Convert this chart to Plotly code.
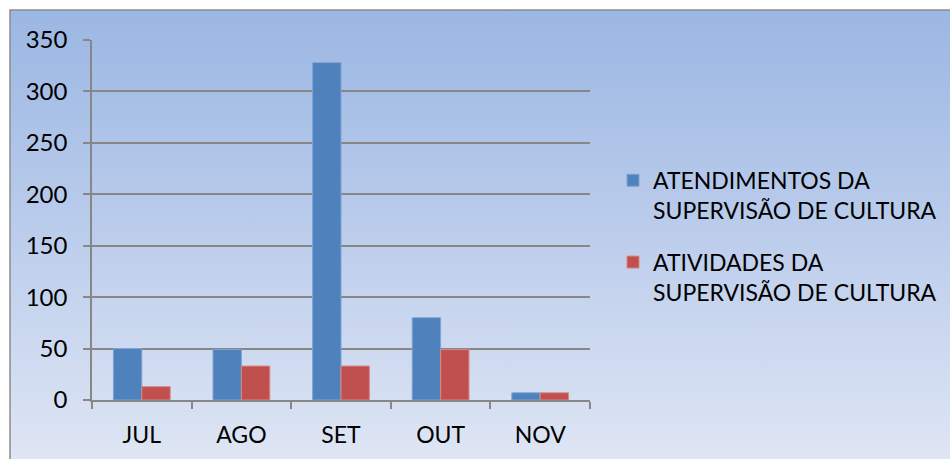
import base64
import plotly.graph_objects as go

# Monthly figures for the culture supervision office
months = ["JUL", "AGO", "SET", "OUT", "NOV"]
atendimentos = [50, 49, 328, 80, 7]
atividades = [13, 33, 33, 49, 7]

series_names = [
    "ATENDIMENTOS DA<br>SUPERVISÃO DE CULTURA",
    "ATIVIDADES DA<br>SUPERVISÃO DE CULTURA",
]
y_ticks = [0, 50, 100, 150, 200, 250, 300, 350]

FONT = "Lato"
GRID = "#878787"

# Vertical blue gradient used as the chart background
svg = (
    '<svg xmlns="http://www.w3.org/2000/svg" width="100" height="100" preserveAspectRatio="none">'
    '<defs><linearGradient id="g" x1="0" y1="0" x2="0" y2="1">'
    '<stop offset="0" stop-color="#9bb7e3"/>'
    '<stop offset="0.5" stop-color="#bccdec"/>'
    '<stop offset="1" stop-color="#dfe6f4"/>'
    '</linearGradient></defs>'
    '<rect width="100" height="100" fill="url(#g)"/></svg>'
)
bg_src = "data:image/svg+xml;base64," + base64.b64encode(svg.encode()).decode()

fig = go.Figure()
fig.add_trace(go.Bar(
    x=months, y=atendimentos, name=series_names[0], legendgroup="a",
    marker=dict(color="#4f81bd", line=dict(color="#7fa3d6", width=1)),
))
fig.add_trace(go.Bar(
    x=months, y=atividades, name=series_names[1], legendgroup="b",
    marker=dict(color="#c0504d", line=dict(color="#d88886", width=1)),
))

# paper geometry (pixels); the x axis only spans part of the paper width
L, R, T, B = 92, 300, 40, 59
W, H = 950 - L - R, 459 - T - B
plot_right = 590
x_dom_end = (plot_right - L) / W
x0 = (10 - L) / W
x1 = (953 - L) / W
y1 = (H + T - 10) / H
y0 = (H + T - 462) / H

fig.update_layout(
    width=950, height=459,
    margin=dict(l=L, r=R, t=T, b=B, autoexpand=False),
    paper_bgcolor="white",
    plot_bgcolor="rgba(0,0,0,0)",
    barmode="group",
    bargap=0.43,
    bargroupgap=0,
    font=dict(family=FONT, size=23, color="#000000"),
    images=[dict(
        source=bg_src, xref="paper", yref="paper",
        x=x0, y=y1, sizex=x1 - x0, sizey=y1 - y0,
        xanchor="left", yanchor="top", sizing="stretch", layer="below",
    )],
    shapes=[dict(
        type="rect", xref="paper", yref="paper",
        x0=x0, x1=x1, y0=y0, y1=y1,
        line=dict(color="#8c8c8c", width=1.5), fillcolor="rgba(0,0,0,0)",
        layer="above",
    )],
    legend=dict(
        x=(613 - L) / W, y=0.67, xanchor="left", yanchor="top",
        bgcolor="rgba(0,0,0,0)", font=dict(family=FONT, size=23),
        tracegroupgap=19, valign="top", traceorder="grouped",
    ),
    xaxis=dict(
        type="category", domain=[0, x_dom_end],
        showline=True, linecolor=GRID, linewidth=1.5,
        ticks="outside", tickson="boundaries", ticklen=7, tickcolor=GRID,
        tickwidth=1.5, showgrid=False, tickfont=dict(size=23),
        ticklabelstandoff=14,
    ),
    yaxis=dict(
        range=[0, 350], tickvals=y_ticks, showline=True, linecolor=GRID,
        linewidth=1.5, ticks="outside", ticklen=7, tickcolor=GRID,
        tickwidth=1.5, showgrid=True, gridcolor=GRID, gridwidth=1.5,
        zeroline=False, tickfont=dict(size=24), ticklabelstandoff=11,
    ),
)

fig.write_html("out.html")
